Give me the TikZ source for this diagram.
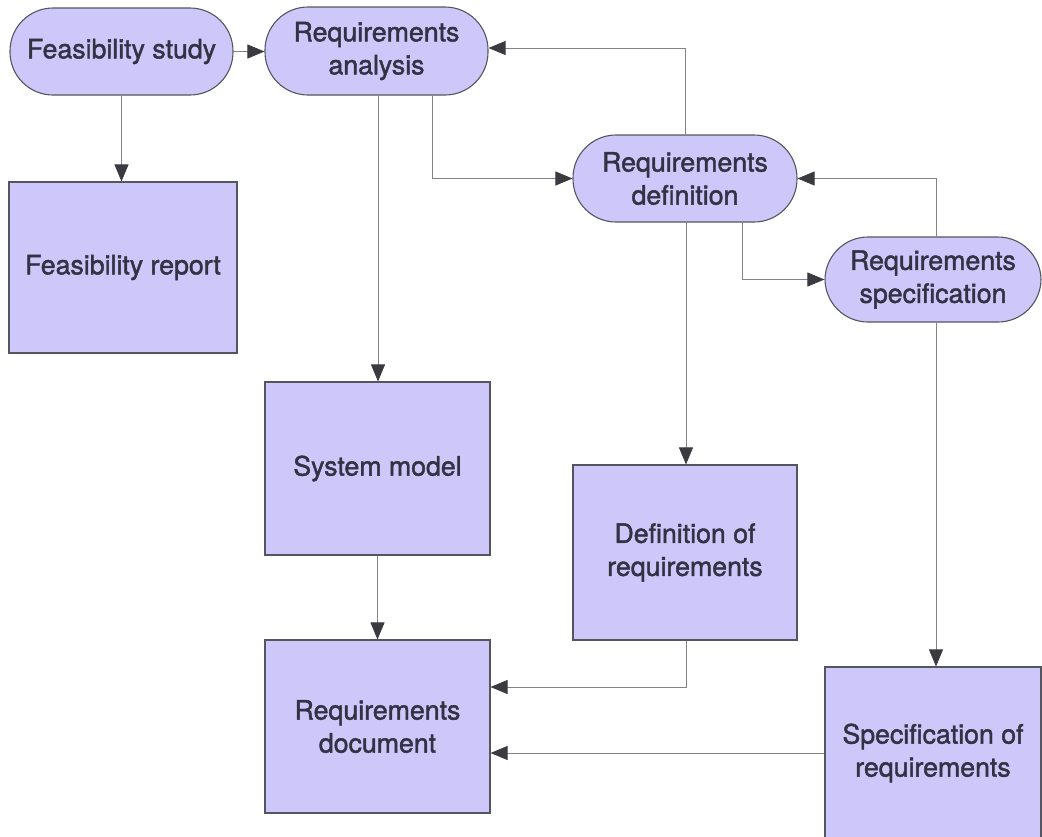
\documentclass[tikz,border=0pt]{standalone}
\usepackage{fontspec}
\setmainfont{TeX Gyre Heros}[FakeBold=1.6]
\usetikzlibrary{arrows.meta}
\definecolor{boxfill}{RGB}{206,200,250}
\definecolor{boxline}{RGB}{85,85,95}
\definecolor{txt}{RGB}{50,50,68}
\definecolor{wire}{RGB}{130,130,135}
\definecolor{tip}{RGB}{58,58,64}
\tikzset{
  base/.style={draw=boxline, line width=1.1pt, fill=boxfill, text=txt, align=center,
    font=\fontsize{26.7}{33}\selectfont, inner sep=0pt, anchor=center},
  pill/.style={base, rounded corners=43pt},
  doc/.style={base},
  arr/.style={draw=wire, line width=0.8pt,
    -{Triangle[length=17pt,width=14pt,color=tip]}},
}
\begin{document}
\begin{tikzpicture}[x=1pt,y=-1pt]
  \fill[white] (0,0) rectangle (1042,836);
  \useasboundingbox (0,0) rectangle (1042,836);

  % activities
  \node[pill, minimum width=223pt, minimum height=87pt] (fs) at (121.5,51.5) {Feasibility study};
  \node[pill, minimum width=223pt, minimum height=88pt] (ra) at (376.5,51) {Requirements\\analysis};
  \node[pill, minimum width=224pt, minimum height=87pt] (rd) at (685,178.5) {Requirements\\definition};
  \node[pill, minimum width=216pt, minimum height=85pt] (rs) at (933,279.5) {Requirements\\specification};

  % deliverables
  \node[doc, minimum width=228pt, minimum height=171pt] (fr) at (123,267.5) {Feasibility report};
  \node[doc, minimum width=225pt, minimum height=173pt] (sm) at (377.5,468.5) {System model};
  \node[doc, minimum width=224pt, minimum height=175pt] (dr) at (685,552.5) {Definition of\\requirements};
  \node[doc, minimum width=225pt, minimum height=173pt] (rdoc) at (377.5,726.5) {Requirements\\document};
  \node[doc, minimum width=216pt, minimum height=172pt] (sr) at (933,753) {Specification of\\requirements};

  % flow between activities
  \draw[arr] (fs.east) -- (fs.east -| ra.west);
  \draw[arr] ([xshift=56pt]ra.south) |- (rd.west);
  \draw[arr] (rd.north) |- ([yshift=3pt]ra.east);
  \draw[arr] ([xshift=57pt]rd.south) |- (rs.west);
  \draw[arr] ([xshift=3pt]rs.north) |- (rd.east);

  % activities to deliverables
  \draw[arr] (fs.south) -- (fs.south |- fr.north);
  \draw[arr] ([xshift=1.5pt]ra.south) -- ([xshift=1.5pt]ra.south |- sm.north);
  \draw[arr] ([xshift=1pt]rd.south) -- ([xshift=1pt]rd.south |- dr.north);
  \draw[arr] ([xshift=3pt]rs.south) -- ([xshift=3pt]rs.south |- sr.north);

  % deliverables into the requirements document
  \draw[arr] (sm.south) -- (rdoc.north);
  \draw[arr] ([xshift=1pt]dr.south) |- ([yshift=39.5pt]rdoc.east);
  \draw[arr] (sr.west) -- (sr.west -| rdoc.east);
\end{tikzpicture}
\end{document}
